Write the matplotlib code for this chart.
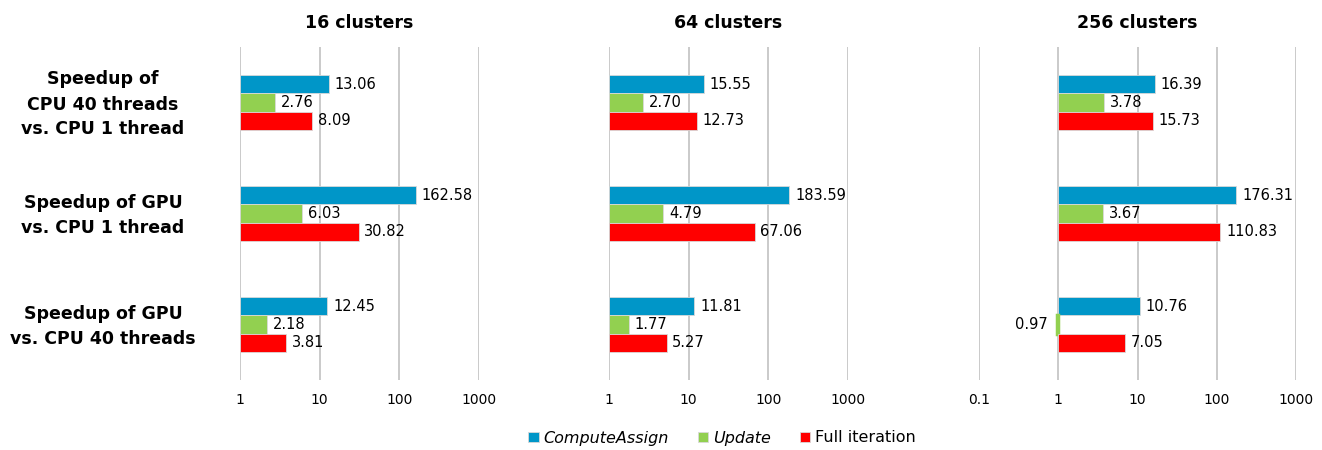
import matplotlib.pyplot as plt
import numpy as np

titles = ['16 clusters', '64 clusters', '256 clusters']
rows = ['Speedup of\nCPU 40 threads\nvs. CPU 1 thread',
        'Speedup of GPU\nvs. CPU 1 thread',
        'Speedup of GPU\nvs. CPU 40 threads']
series = ['ComputeAssign', 'Update', 'Full iteration']

# values[panel][row] for each series
compute_assign = [[13.06, 162.58, 12.45], [15.55, 183.59, 11.81], [16.39, 176.31, 10.76]]
update = [[2.76, 6.03, 2.18], [2.70, 4.79, 1.77], [3.78, 3.67, 0.97]]
full_iter = [[8.09, 30.82, 3.81], [12.73, 67.06, 5.27], [15.73, 110.83, 7.05]]

xlims = [(1, 1000), (1, 1000), (0.1, 1000)]
xticks = [[1, 10, 100, 1000], [1, 10, 100, 1000], [0.1, 1, 10, 100, 1000]]
xticklabels = [['1', '10', '100', '1000'], ['1', '10', '100', '1000'],
               ['0.1', '1', '10', '100', '1000']]

colors = ['#0096C8', '#92D050', '#FF0000']

plt.rcParams['font.family'] = ['DejaVu Sans']

fig = plt.figure(figsize=(13.22, 4.5), dpi=100)
W, H = 1322, 450
boxes = [(240, 479), (609, 848), (979, 1296)]
top, bottom = 47, 380

y = np.arange(len(rows))
bh = 0.165
handles = []
for p in range(3):
    x0, x1 = boxes[p]
    ax = fig.add_axes([x0 / W, 1 - bottom / H, (x1 - x0) / W, (bottom - top) / H])
    ax.set_xscale('log')
    data = [compute_assign[p], update[p], full_iter[p]]
    for s in range(3):
        vals = np.array(data[s])
        pos = y + (s - 1) * bh
        b = ax.barh(pos, np.abs(vals - 1), left=np.minimum(vals, 1), height=bh,
                    color=colors[s], edgecolor='#d9d9d9', linewidth=0.6, zorder=3)
        if p == 0:
            handles.append(b)
        for yy, v, patch in zip(pos, vals, b.patches):
            if v >= 1:
                ax.text(v * 1.18, yy, f'{v:.2f}', va='center', ha='left', fontsize=10.5)
            else:
                # tiny bar below 1: outline in its own colour so it stays visible
                patch.set_edgecolor(colors[s])
                patch.set_linewidth(2.5)
                ax.text(v / 1.3, yy, f'{v:.2f}', va='center', ha='right', fontsize=10.5)
    ax.set_xlim(*xlims[p])
    ax.set_ylim(2.5, -0.5)
    ax.set_xticks(xticks[p])
    ax.set_xticklabels(xticklabels[p], fontsize=10)
    ax.xaxis.set_minor_locator(plt.NullLocator())
    ax.tick_params(axis='x', length=0, pad=9)
    ax.set_yticks([])
    for sp in ax.spines.values():
        sp.set_visible(False)
    for t in xticks[p]:
        ax.axvline(t, color='#c6c6c6', linewidth=1.3, zorder=1, snap=True)
    ax.set_title(titles[p], fontsize=12.5, fontweight='bold', pad=14)
    ax.patch.set_alpha(0)

for i, r in enumerate(rows):
    yc = top + (bottom - top) * (i + 0.5) / 3 + 2
    fig.text(103 / W, 1 - yc / H, r, ha='center', va='center', fontsize=12.5,
             fontweight='bold', linespacing=1.5)

leg = fig.legend(handles, series, loc='center', bbox_to_anchor=(722 / W, 1 - 438 / H),
                 ncol=3, frameon=False, fontsize=11.5, handlelength=0.65,
                 handleheight=0.65, handletextpad=0.3, columnspacing=1.8)
for t in leg.get_texts()[:2]:
    t.set_fontstyle('italic')

fig.savefig('out.png', dpi=100)
